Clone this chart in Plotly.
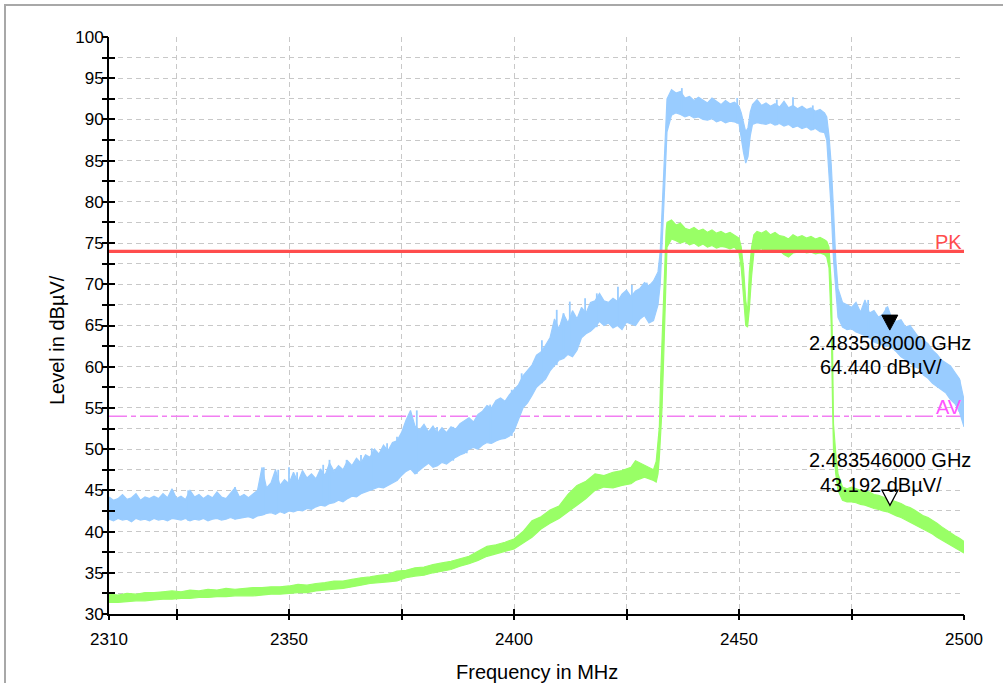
import plotly.graph_objects as go

# ---- axis ranges and limits -------------------------------------------------
FREQ_START, FREQ_STOP = 2310, 2500          # MHz
LEVEL_MIN, LEVEL_MAX = 30, 100              # dBuV

pk_limit = 74.0
av_limit = 54.0

x_tickvals = [2310, 2325, 2350, 2375, 2400, 2425, 2450, 2475, 2500]
x_ticktext = ["2310", "", "2350", "", "2400", "", "2450", "", "2500"]
y_tickvals = [30, 32.5, 35, 37.5, 40, 42.5, 45, 47.5, 50, 52.5, 55, 57.5, 60,
              62.5, 65, 67.5, 70, 72.5, 75, 77.5, 80, 82.5, 85, 87.5, 90,
              92.5, 95, 97.5, 100]
y_ticktext = ["30", "", "35", "", "40", "", "45", "", "50", "", "55", "", "60",
              "", "65", "", "70", "", "75", "", "80", "", "85", "", "90",
              "", "95", "", "100"]

# ---- peak detector trace (min / max of the noise band per sample) ---------
peak_freq = (list(range(2310, 2433)) + [2432.5, 2433, 2433.5]
             + list(range(2434, 2451)) + [2450.5, 2451, 2451.5, 2452, 2452.5]
             + list(range(2453, 2470)) + [2469.5, 2470, 2470.5, 2471, 2471.5]
             + list(range(2472, 2501)))

peak_lo = [
    41.5, 41.3, 41.6, 41.4, 41.5, 41.2, 41.6, 41.4, 41.5, 41.3,
    41.6, 41.4, 41.5, 41.3, 41.6, 41.5, 41.4, 41.6, 41.3, 41.5,
    41.4, 41.6, 41.3, 41.5, 41.6, 41.4, 41.5, 41.7, 41.5, 41.6,
    41.7, 41.8, 41.6, 41.9, 42.0, 42.2, 42.3, 42.1, 42.4, 42.2,
    42.5, 42.4, 42.6, 42.5, 42.8, 42.7, 43.0, 43.2, 43.1, 43.4,
    43.5, 43.8, 43.6, 44.0, 44.3, 44.2, 44.6, 44.8, 45.0, 45.2,
    45.4, 45.3, 45.6, 45.9, 46.2, 46.8, 47.3, 47.6, 47.0, 47.5,
    47.9, 48.3, 47.8, 48.0, 48.4, 48.2, 48.6, 49.0, 49.3, 49.5,
    50.0, 50.2, 50.0, 50.5, 50.8, 50.7, 51.0, 51.2, 51.3, 51.6,
    52.2, 53.5, 55.0, 55.6, 56.5, 57.5, 58.0, 58.5, 59.5, 60.2,
    60.8, 61.0, 61.5, 61.2, 62.0, 63.5, 64.0, 64.3, 64.8, 65.5,
    65.0, 65.3, 64.7, 65.0, 64.5, 65.4, 65.2, 65.0, 65.8, 66.2,
    65.3, 65.6, 67.5,
    70.0, 75.0, 82.0,
    88.5, 90.5, 90.8, 90.6, 90.3, 90.5, 90.2, 90.3, 90.0, 89.9,
    90.1, 89.7, 89.9, 89.6, 89.8, 89.7, 89.5,
    87.5, 86.0, 84.7, 85.5, 88.0,
    89.4, 89.6, 89.5, 89.4, 89.6, 89.3, 89.5, 89.2, 89.4, 89.0,
    89.2, 88.9, 89.1, 88.7, 88.9, 88.5, 88.4,
    87.5, 83.5, 79.0, 73.0, 69.0,
    66.0, 64.8, 64.5, 64.6, 64.2, 64.0, 63.8, 63.5, 63.0, 62.8,
    62.6, 62.5, 62.3, 61.8, 61.2, 60.8, 60.5, 60.0, 59.8, 59.0,
    58.6, 58.0, 57.6, 57.2, 56.8, 56.0, 55.5, 54.5, 52.7,
]

peak_hi = [
    44.2, 43.8, 44.0, 44.5, 43.9, 44.1, 44.6, 43.8, 44.2, 44.0,
    44.3, 44.0, 44.6, 44.1, 45.2, 44.0, 44.3, 43.9, 45.0, 44.2,
    44.5, 44.0, 44.4, 44.1, 44.8, 44.2, 44.0, 44.6, 45.3, 44.2,
    44.5, 44.1, 44.6, 45.0, 47.8, 45.3, 45.9, 47.5, 45.6, 46.3,
    45.8, 47.2, 46.0, 47.4, 46.5, 47.0, 46.4, 47.6, 46.8, 48.3,
    47.3, 48.0, 47.5, 48.6, 48.0, 48.9, 48.3, 49.3, 49.0, 50.0,
    49.4, 50.5, 49.8, 50.8, 51.0, 52.0, 53.5, 54.7, 52.8, 52.3,
    53.0, 52.1, 52.8, 51.9, 52.6, 52.0, 52.7, 52.4, 53.1, 53.5,
    53.8, 53.3, 54.2, 54.6, 55.3, 55.0, 55.9, 56.2, 55.8, 56.6,
    57.2, 57.8, 58.9, 59.5, 60.2, 61.4, 61.8, 62.6, 63.5, 65.8,
    64.6, 66.4, 65.3, 66.8, 65.8, 67.2, 66.5, 67.8, 68.0, 68.9,
    68.0, 67.8, 68.3, 67.9, 68.8, 69.3, 68.5, 69.2, 69.5, 70.2,
    69.8, 70.4, 71.5,
    74.0, 80.0, 87.0,
    92.5, 93.6, 93.2, 93.4, 92.6, 92.8, 92.3, 92.7, 92.4, 92.0,
    92.6, 92.2, 91.8, 92.3, 91.9, 92.1, 91.6,
    90.8, 89.8, 88.5, 89.0, 90.9,
    91.8, 92.4, 91.7, 92.0, 91.6, 91.9, 91.5, 92.2, 91.4, 91.7,
    91.3, 91.6, 91.2, 91.4, 91.0, 91.2, 90.8,
    90.3, 88.0, 84.5, 79.0, 73.0,
    69.5, 67.8, 67.5, 67.2, 67.8, 66.6, 68.1, 66.5, 66.8, 66.0,
    66.4, 67.3, 65.8, 65.5, 65.7, 64.8, 65.0, 64.2, 63.5, 63.2,
    62.8, 62.0, 61.5, 60.8, 60.5, 60.1, 59.3, 58.5, 56.0,
]

# narrow noise spikes on top of the peak trace
spike_freq = [2324.0, 2327.6, 2338.0, 2344.4, 2347.6, 2350.0, 2351.8, 2354.0,
              2357.6, 2359.0, 2362.8, 2366.0, 2368.4, 2371.8, 2374.0, 2376.9,
              2378.4, 2382.9, 2386.5, 2389.5, 2391.8, 2394.7, 2396.9, 2399.5,
              2401.7, 2406.2, 2409.5, 2411.0, 2412.4, 2415.8, 2418.4, 2423.1,
              2426.2, 2429.5, 2437.3, 2449.6, 2458.4, 2462.0, 2466.4, 2478.7,
              2482.7, 2499.0]
spike_top = [45.0, 45.0, 45.4, 47.8, 47.5, 47.8, 47.2, 46.6,
             48.1, 48.7, 48.7, 49.3, 50.1, 50.7, 51.5, 53.8,
             54.7, 52.7, 52.7, 53.3, 53.9, 55.4, 56.0, 57.2,
             59.2, 63.2, 66.9, 66.5, 67.9, 68.3, 68.9, 69.7,
             69.9, 70.2, 93.8, 92.6, 92.4, 92.7, 91.7, 68.1,
             67.2, 58.4]

# ---- average detector trace -------------------------------------------------
avg_freq = (list(range(2310, 2427, 2)) + [2427, 2428, 2429, 2430, 2431]
            + [2431.6, 2432, 2432.3, 2432.6, 2432.9, 2433.2, 2433.5, 2433.8]
            + list(range(2434, 2451))
            + [2450.5, 2451, 2451.5, 2451.9, 2452.3, 2452.8, 2453.3]
            + list(range(2454, 2470))
            + [2469.5, 2470, 2470.5, 2470.8, 2471, 2471.5]
            + list(range(2472, 2501)))

avg_lo = [
    31.4, 31.4, 31.5, 31.6, 31.6, 31.7, 31.8, 31.8, 31.9, 31.9,
    32.0, 32.0, 32.1, 32.1, 32.2, 32.2, 32.2, 32.3, 32.4, 32.4,
    32.5, 32.6, 32.6, 32.8, 32.9, 33.0, 33.1, 33.3, 33.5, 33.7,
    33.8, 33.9, 34.0, 34.4, 34.6, 34.7, 35.0, 35.2, 35.4, 35.8,
    36.1, 36.5, 37.0, 37.3, 37.6, 37.9, 38.6, 39.3, 40.3, 41.0,
    41.6, 42.4, 43.2, 44.0, 45.0, 45.4, 45.3, 45.6, 45.8,
    46.2, 46.4, 46.6, 46.4, 46.2,
    46.0, 47.0, 49.0, 51.0, 55.0, 60.0, 64.0, 70.0,
    74.5, 75.5, 75.3, 75.0, 75.2, 74.8, 75.0, 74.6, 74.9, 74.5,
    74.7, 74.4, 74.6, 74.5, 74.3, 74.5, 73.8,
    72.0, 68.0, 65.0, 64.8, 67.0, 71.0, 73.8,
    74.2, 74.3, 74.0, 74.2, 73.9, 74.1, 73.6, 73.3, 73.8, 73.9,
    74.0, 73.8, 73.9, 73.7, 73.8, 73.6,
    73.3, 72.0, 65.0, 55.0, 50.0, 47.0,
    45.0, 43.8, 43.6, 43.6, 43.5, 43.3, 43.2, 43.0, 42.8, 42.7,
    42.5, 42.4, 42.2, 41.9, 41.7, 41.5, 41.2, 40.9, 40.6, 40.3,
    40.0, 39.7, 39.3, 39.0, 38.7, 38.4, 38.0, 37.7, 37.4,
]

avg_hi = [
    32.4, 32.3, 32.5, 32.4, 32.6, 32.6, 32.7, 32.8, 32.7, 32.9,
    32.8, 33.0, 32.9, 33.1, 33.0, 33.1, 33.2, 33.2, 33.3, 33.3,
    33.4, 33.6, 33.5, 33.7, 33.8, 34.0, 34.0, 34.2, 34.4, 34.5,
    34.7, 34.8, 35.2, 35.3, 35.6, 35.7, 36.0, 36.2, 36.4, 36.7,
    37.0, 37.6, 38.2, 38.4, 38.7, 39.1, 40.0, 41.3, 41.8, 42.6,
    43.1, 44.5, 45.6, 46.1, 47.0, 46.8, 47.2, 47.4, 47.8,
    48.6, 48.3, 48.0, 47.7, 47.5,
    48.5, 50.5, 52.7, 58.7, 63.5, 67.7, 72.0, 76.5,
    77.5, 77.8, 77.2, 77.4, 76.8, 76.6, 76.9, 76.5, 76.7, 76.3,
    76.6, 76.2, 76.4, 76.1, 76.3, 76.0, 75.6,
    74.5, 72.0, 68.0, 66.5, 71.5, 74.5, 76.0,
    76.4, 76.2, 76.5, 76.0, 76.3, 75.9, 75.8, 75.5, 76.0, 75.7,
    75.9, 75.6, 75.8, 75.5, 75.7, 75.4,
    75.2, 74.5, 70.0, 62.0, 53.0, 49.5,
    47.0, 45.4, 45.2, 45.4, 45.2, 45.0, 44.9, 44.8, 44.5, 44.4,
    44.2, 44.0, 43.8, 43.6, 43.4, 43.1, 42.9, 42.6, 42.2, 41.9,
    41.7, 41.4, 41.0, 40.6, 40.2, 39.8, 39.5, 39.2, 38.8,
]

# ---- markers -------------------------------------------------------------
mk1_freq, mk1_level = 2483.508, 64.440    # peak marker (filled)
mk2_freq, mk2_level = 2483.546, 43.192    # average marker (open)

PEAK_COLOR = "#99ccff"
AVG_COLOR = "#99ff66"
PK_COLOR = "#ff4d4d"
AV_COLOR = "#f27ef2"
FONT = "Liberation Sans, Arial, sans-serif"

# plot area in pixels (used for the page frame and text placement)
W, H = 1003, 683
ML, MR, MT, MB = 109, 39, 37, 69
PW, PH = W - ML - MR, H - MT - MB


def px_x(p):
    return (p - ML) / PW


def px_y(p):
    return (H - MB - p) / PH


def band(freq, lo, hi):
    return list(freq) + list(freq)[::-1], list(hi) + list(lo)[::-1]


def nearest_lo(f):
    i = min(range(len(peak_freq)), key=lambda k: abs(peak_freq[k] - f))
    return peak_lo[i]


fig = go.Figure()

bx, by = band(peak_freq, peak_lo, peak_hi)
fig.add_trace(go.Scatter(x=bx, y=by, mode="lines", fill="toself",
                         fillcolor=PEAK_COLOR,
                         line=dict(color=PEAK_COLOR, width=1.2),
                         hoverinfo="skip", name="PK"))

sx, sy = [], []
for f, top in zip(spike_freq, spike_top):
    sx += [f, f, None]
    sy += [nearest_lo(f), top, None]
fig.add_trace(go.Scatter(x=sx, y=sy, mode="lines",
                         line=dict(color=PEAK_COLOR, width=1.8),
                         hoverinfo="skip", name="PK spikes"))

gx, gy = band(avg_freq, avg_lo, avg_hi)
fig.add_trace(go.Scatter(x=gx, y=gy, mode="lines", fill="toself",
                         fillcolor=AVG_COLOR,
                         line=dict(color=AVG_COLOR, width=1.2),
                         hoverinfo="skip", name="AV"))

# empty trace to bring the overlay axes (outer tick halves) to life
fig.add_trace(go.Scatter(x=[None], y=[None], xaxis="x2", yaxis="y2",
                         showlegend=False, hoverinfo="skip"))

grid = dict(showgrid=True, gridcolor="#c8c8c8", gridwidth=1, griddash="5px,4px")

fig.update_layout(
    width=W, height=H,
    margin=dict(l=ML, r=MR, t=MT, b=MB, pad=0),
    paper_bgcolor="white", plot_bgcolor="white",
    showlegend=False,
    font=dict(family=FONT, size=17, color="black"),
    xaxis=dict(range=[FREQ_START, FREQ_STOP], tickmode="array",
               tickvals=x_tickvals, ticktext=x_ticktext,
               ticks="inside", ticklen=5, tickwidth=2, tickcolor="black",
               showline=True, linecolor="black", linewidth=2,
               zeroline=False, ticklabelstandoff=9,
               tickfont=dict(family=FONT, size=17, color="black"), **grid),
    yaxis=dict(range=[LEVEL_MIN, LEVEL_MAX], tickmode="array",
               tickvals=y_tickvals, ticktext=y_ticktext,
               ticks="inside", ticklen=6, tickwidth=2, tickcolor="black",
               showline=True, linecolor="black", linewidth=2,
               zeroline=False,
               tickfont=dict(family=FONT, size=17, color="black"), **grid),
    xaxis2=dict(range=[FREQ_START, FREQ_STOP], overlaying="x", side="bottom",
                tickmode="array", tickvals=x_tickvals, showticklabels=False,
                ticks="outside", ticklen=5, tickwidth=2, tickcolor="black",
                showline=False, showgrid=False, zeroline=False),
    yaxis2=dict(range=[LEVEL_MIN, LEVEL_MAX], overlaying="y", side="left",
                tickmode="array", tickvals=y_tickvals, showticklabels=False,
                ticks="outside", ticklen=6, tickwidth=2, tickcolor="black",
                showline=False, showgrid=False, zeroline=False),
)

shapes = [
    # page frame
    dict(type="rect", xref="paper", yref="paper",
         x0=px_x(5), x1=px_x(W + 20), y0=px_y(H + 20), y1=px_y(5),
         line=dict(color="#a8a8a8", width=2), fillcolor="rgba(0,0,0,0)",
         layer="below"),
    # limit lines
    dict(type="line", xref="x", yref="y", x0=FREQ_START, x1=FREQ_STOP,
         y0=av_limit, y1=av_limit, layer="between",
         line=dict(color=AV_COLOR, width=1.5, dash="18px,4px,5px,4px")),
    dict(type="line", xref="x", yref="y", x0=FREQ_START, x1=FREQ_STOP,
         y0=pk_limit, y1=pk_limit, layer="above",
         line=dict(color=PK_COLOR, width=3.3)),
    # marker triangles, tip on the measured level
    dict(type="path", xref="x", yref="y", xsizemode="pixel", ysizemode="pixel",
         xanchor=mk1_freq, yanchor=mk1_level, path="M-8,15 L8,15 L0,0 Z",
         fillcolor="black", line=dict(color="black", width=1), layer="above"),
    dict(type="path", xref="x", yref="y", xsizemode="pixel", ysizemode="pixel",
         xanchor=mk2_freq, yanchor=mk2_level, path="M-8,15 L8,15 L0,0 Z",
         fillcolor="white", line=dict(color="black", width=1.3), layer="above"),
]
fig.update_layout(shapes=shapes)

ann_font = dict(family=FONT, size=20, color="black")
annotations = [
    dict(text="Frequency in MHz", xref="paper", yref="paper",
         x=px_x(537), y=px_y(672), showarrow=False, font=ann_font,
         xanchor="center", yanchor="middle"),
    dict(text="Level in dBµV/", xref="paper", yref="paper",
         x=px_x(57), y=px_y(340), showarrow=False, font=ann_font,
         textangle=-90, xanchor="center", yanchor="middle"),
    dict(text="PK", xref="paper", yref="y", x=1, y=pk_limit, yshift=9,
         showarrow=False, xanchor="right", yanchor="middle",
         font=dict(family=FONT, size=20, color=PK_COLOR)),
    dict(text="AV", xref="paper", yref="y", x=1, y=av_limit, yshift=9,
         showarrow=False, xanchor="right", yanchor="middle",
         font=dict(family=FONT, size=20, color="#ff55ff")),
    dict(text=f"{mk1_freq / 1000:.9f} GHz", x=mk1_freq, y=mk1_level,
         yshift=-13, showarrow=False, font=ann_font,
         xanchor="center", yanchor="middle"),
    dict(text=f"{mk1_level:.3f} dBµV/", x=mk1_freq, y=mk1_level,
         xshift=-9, yshift=-37, showarrow=False, font=ann_font,
         xanchor="center", yanchor="middle"),
    dict(text=f"{mk2_freq / 1000:.9f} GHz", x=mk2_freq, y=mk2_level,
         yshift=45, showarrow=False, font=ann_font,
         xanchor="center", yanchor="middle"),
    dict(text=f"{mk2_level:.3f} dBµV/", x=mk2_freq, y=mk2_level,
         xshift=-9, yshift=20, showarrow=False, font=ann_font,
         xanchor="center", yanchor="middle"),
]
fig.update_layout(annotations=annotations)

fig.write_html("out.html")
